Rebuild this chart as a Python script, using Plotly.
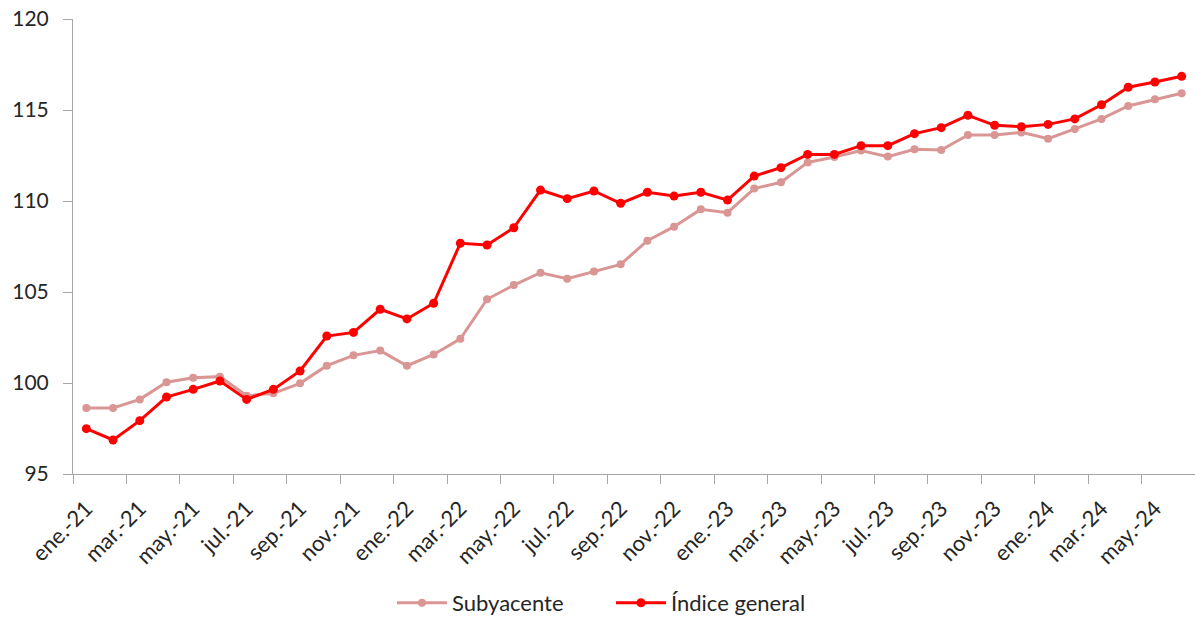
import plotly.graph_objects as go

months = ["ene.", "feb.", "mar.", "abr.", "may.", "jun.", "jul.", "ago.", "sep.", "oct.", "nov.", "dic."]
categories = [f"{m}-{y}" for y in ["21", "22", "23"] for m in months] + [f"{m}-24" for m in months[:6]]

subyacente = [98.63, 98.63, 99.10, 100.04, 100.29, 100.35, 99.30, 99.43, 99.98, 100.95, 101.52, 101.78,
              100.95, 101.57, 102.43, 104.60, 105.38, 106.06, 105.73, 106.12, 106.52, 107.82, 108.59, 109.54,
              109.36, 110.68, 111.03, 112.12, 112.42, 112.77, 112.44, 112.84, 112.80, 113.63, 113.63, 113.77,
              113.42, 113.96, 114.51, 115.22, 115.59, 115.92]
indice_general = [97.49, 96.87, 97.93, 99.23, 99.65, 100.11, 99.10, 99.65, 100.66, 102.58, 102.78, 104.05,
                  103.52, 104.38, 107.68, 107.58, 108.53, 110.60, 110.13, 110.55, 109.87, 110.48, 110.27, 110.48,
                  110.05, 111.37, 111.83, 112.56, 112.56, 113.04, 113.04, 113.70, 114.03, 114.71, 114.16, 114.08,
                  114.21, 114.51, 115.29, 116.25, 116.54, 116.85]
y_ticks = [95, 100, 105, 110, 115, 120]

fig = go.Figure()
fig.add_trace(go.Scatter(x=categories, y=subyacente, mode="lines+markers", name="Subyacente",
                         line=dict(color="#D99694", width=3), marker=dict(color="#D99694", size=8)))
fig.add_trace(go.Scatter(x=categories, y=indice_general, mode="lines+markers", name="Índice general",
                         line=dict(color="#FF0000", width=3), marker=dict(color="#FF0000", size=9)))

font_family = "Lato, 'Open Sans', sans-serif"
fig.update_layout(
    width=1195, height=617,
    margin=dict(l=73, r=0, t=19, b=143, autoexpand=False),
    paper_bgcolor="white", plot_bgcolor="white",
    showlegend=True,
    legend=dict(orientation="h", x=0.4795, xanchor="center", y=-0.2835, yanchor="middle",
                font=dict(family=font_family, size=22, color="#262626"),
                entrywidth=154, entrywidthmode="pixels",
                itemwidth=50, traceorder="normal"),
    xaxis=dict(type="category", range=[-0.5, 41.5], tickmode="linear", tick0=0, dtick=2,
               tickson="boundaries", ticks="outside", ticklen=9, tickcolor="#A6A6A6",
               showline=True, linecolor="#A6A6A6", linewidth=1, showgrid=False,
               ticklabelstandoff=12,
               tickangle=-45, tickfont=dict(family=font_family, size=22, color="#262626")),
    yaxis=dict(range=[95, 120], tickmode="array", tickvals=y_ticks, ticks="outside", ticklen=9,
               tickcolor="#A6A6A6", showline=True, linecolor="#A6A6A6", linewidth=1,
               showgrid=False, zeroline=False, ticklabeloverflow="allow", ticklabelstandoff=10,
               tickfont=dict(family=font_family, size=21, color="#262626")),
)
fig.write_html("out.html", config={"displayModeBar": False},
               post_script="document.body.style.margin='0';")
